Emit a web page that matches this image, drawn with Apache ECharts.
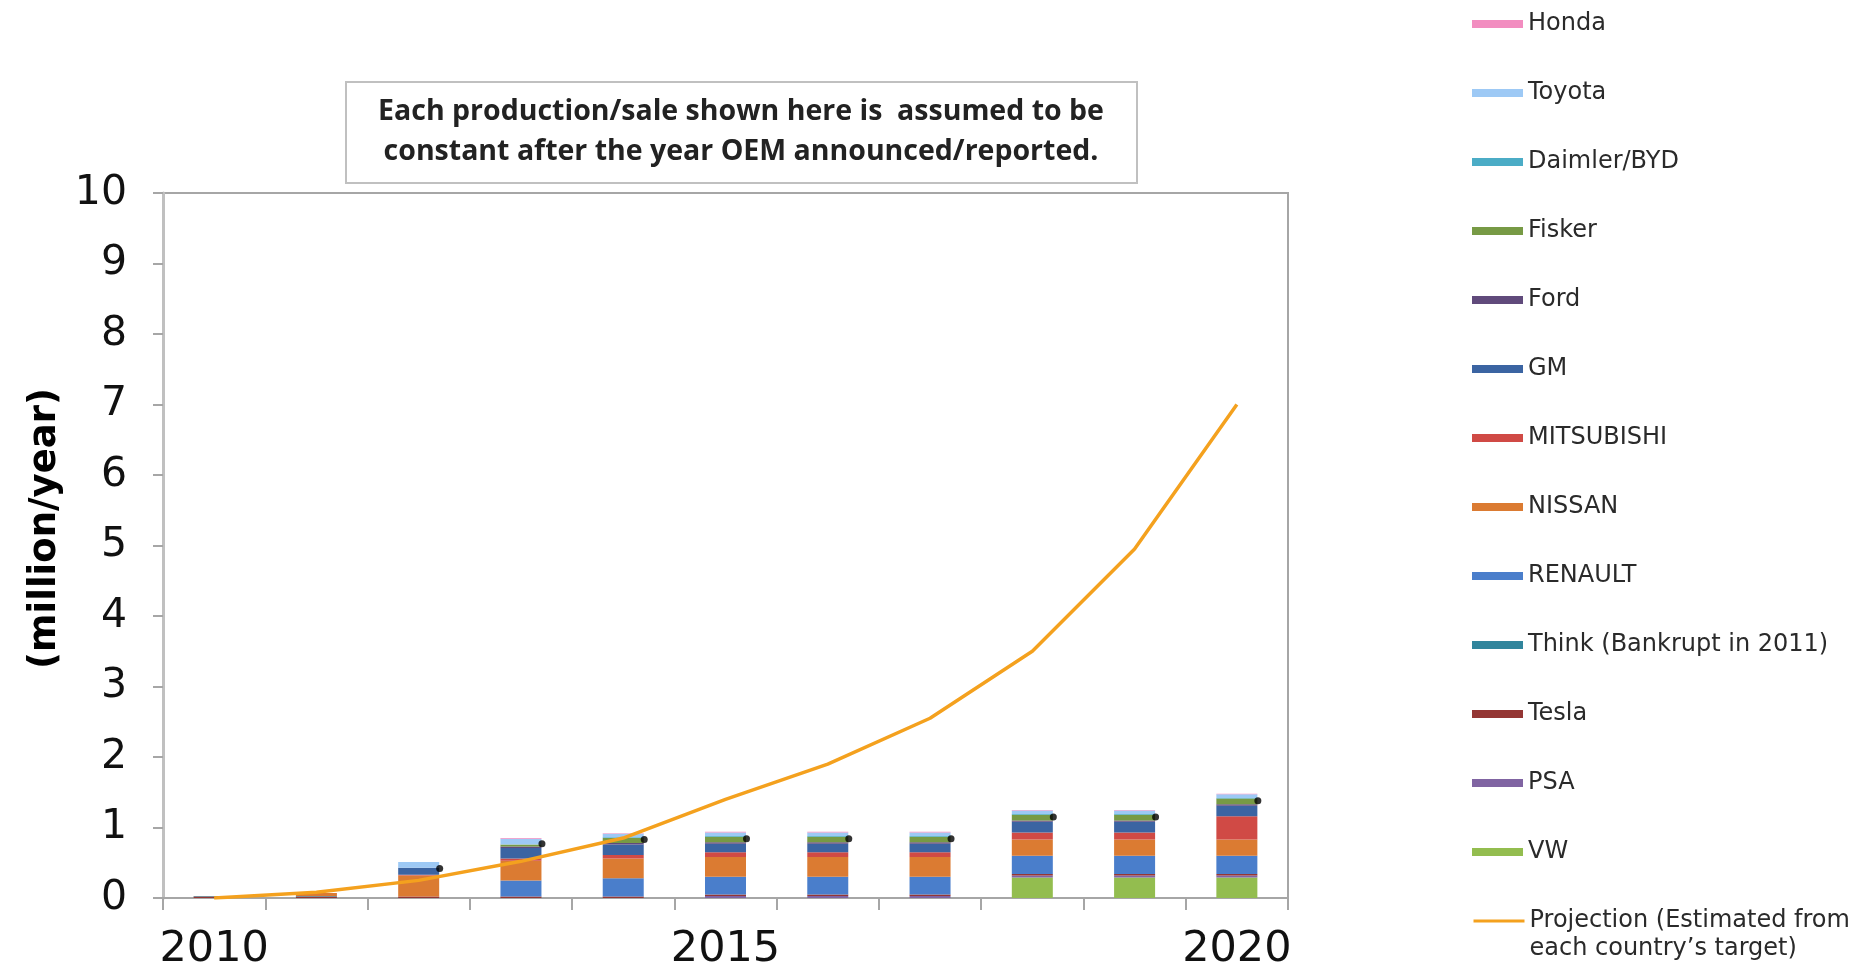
<!DOCTYPE html>
<html>
<head>
<meta charset="utf-8">
<script src="https://cdn.jsdelivr.net/npm/echarts@6/dist/echarts.min.js"></script>
<style>html,body{margin:0;padding:0;background:#fff;}#c{width:1865px;height:969px;}</style>
</head>
<body>
<div id="c"></div>
<script>
var years = ['2010','2011','2012','2013','2014','2015','2016','2017','2018','2019','2020'];
// stacked from bottom to top
var VW         = [0, 0, 0, 0, 0, 0, 0, 0, 0.29, 0.29, 0.29];
var PSA        = [0, 0, 0, 0, 0, 0.03, 0.03, 0.03, 0.03, 0.03, 0.03];
var Tesla      = [0.02, 0.02, 0.02, 0.02, 0.02, 0.02, 0.02, 0.02, 0.02, 0.02, 0.02];
var Think      = [0.01, 0.01, 0, 0, 0, 0, 0, 0, 0, 0, 0];
var RENAULT    = [0, 0, 0, 0.23, 0.26, 0.25, 0.25, 0.25, 0.26, 0.26, 0.26];
var NISSAN     = [0, 0.04, 0.30, 0.28, 0.28, 0.28, 0.28, 0.28, 0.23, 0.23, 0.23];
var MITSUBISHI = [0, 0, 0.01, 0.03, 0.05, 0.07, 0.07, 0.07, 0.10, 0.10, 0.33];
var GM         = [0, 0, 0.10, 0.15, 0.15, 0.12, 0.12, 0.12, 0.15, 0.15, 0.15];
var Ford       = [0, 0, 0, 0.02, 0.02, 0.02, 0.02, 0.02, 0.02, 0.02, 0.02];
var Fisker     = [0, 0, 0, 0.03, 0.07, 0.08, 0.08, 0.08, 0.08, 0.08, 0.08];
var DaimlerBYD = [0, 0, 0, 0, 0.01, 0.01, 0.01, 0.01, 0.01, 0.01, 0.01];
var Toyota     = [0, 0, 0.08, 0.08, 0.05, 0.05, 0.05, 0.05, 0.05, 0.05, 0.05];
var Honda      = [0, 0, 0, 0.01, 0.01, 0.01, 0.01, 0.01, 0.01, 0.01, 0.01];
var markerDots = [null, null, 0.42, 0.77, 0.83, 0.84, 0.84, 0.84, 1.15, 1.15, 1.38];
var projection = [0, 0.08, 0.25, 0.52, 0.85, 1.4, 1.9, 2.55, 3.5, 4.95, 7.0];
var yTicks = [0,1,2,3,4,5,6,7,8,9,10];
var projName = 'Projection (Estimated from each country\u2019s target)';

var barDefs = [
  ['VW', VW, '#93BD4F'],
  ['PSA', PSA, '#8064A2'],
  ['Tesla', Tesla, '#943634'],
  ['Think (Bankrupt in 2011)', Think, '#31859C'],
  ['RENAULT', RENAULT, '#4A7ECB'],
  ['NISSAN', NISSAN, '#DB7B32'],
  ['MITSUBISHI', MITSUBISHI, '#D04A45'],
  ['GM', GM, '#3B64A2'],
  ['Ford', Ford, '#604A7B'],
  ['Fisker', Fisker, '#779A45'],
  ['Daimler/BYD', DaimlerBYD, '#4BACC6'],
  ['Toyota', Toyota, '#9DC9F5'],
  ['Honda', Honda, '#F28DC0']
];

var series = barDefs.map(function(d){
  return {name: d[0], type: 'bar', stack: 'oem', data: d[1], barWidth: 41,
    itemStyle: {color: d[2]}, emphasis: {disabled: true}};
});
series.push({name: 'dots', type: 'scatter', data: markerDots, symbol: 'circle', symbolSize: 7,
  symbolOffset: [21, 0], itemStyle: {color: '#000'}, z: 5, silent: true});
series.push({name: projName, type: 'line', data: projection, symbol: 'none', smooth: false,
  lineStyle: {color: '#F4A11E', width: 3.5}, itemStyle: {color: '#F4A11E'}, z: 6});

var legendNames = barDefs.map(function(d){return d[0];}).reverse();

var chart = echarts.init(document.getElementById('c'), null, {renderer: 'canvas'});
chart.setOption({
  animation: false,
  backgroundColor: '#fff',
  grid: {left: 163, right: 577, top: 193, bottom: 71, show: true, borderColor: '#A6A6A6', borderWidth: 2,
    containLabel: false, outerBoundsMode: 'none'},
  xAxis: {
    type: 'category', data: years, boundaryGap: true,
    axisLine: {lineStyle: {color: '#A6A6A6', width: 2}},
    axisTick: {show: true, interval: 0, length: 12, alignWithLabel: false, lineStyle: {color: '#A6A6A6', width: 2}},
    axisLabel: {interval: 4, fontFamily: 'DejaVu Sans', fontSize: 43, color: '#111', margin: 30}
  },
  yAxis: {
    type: 'value', min: yTicks[0], max: yTicks[yTicks.length-1], interval: 1,
    name: '(million/year)', nameLocation: 'middle', nameGap: 98,
    nameTextStyle: {fontFamily: 'DejaVu Sans', fontWeight: 'bold', fontSize: 37, color: '#000', padding: [0, 0, 0, 34]},
    axisLine: {show: true, lineStyle: {color: '#C0C0C0', width: 3}},
    axisTick: {show: true, length: 10, inside: false, lineStyle: {color: '#A6A6A6', width: 2}},
    splitLine: {show: false},
    axisLabel: {fontFamily: 'DejaVu Sans', fontSize: 41, color: '#111', margin: 36}
  },
  legend: [{
    data: legendNames, orient: 'vertical', left: 1472, top: 10, padding: 0,
    itemWidth: 51, itemHeight: 8, itemGap: 41, itemTextGap: 6, icon: 'rect',
    textStyle: {fontFamily: 'DejaVu Sans', fontSize: 24, lineHeight: 28, color: '#2a2a2a'}
  }, {
    data: [projName], orient: 'vertical', left: 1472, top: 879, padding: 0,
    itemWidth: 51, itemHeight: 8, itemTextGap: 6,
    itemStyle: {opacity: 0},
    lineStyle: {width: 3, color: '#F4A11E'},
    formatter: function(){ return '\nProjection (Estimated from\neach country\u2019s target)'; },
    textStyle: {fontFamily: 'DejaVu Sans', fontSize: 24, lineHeight: 28, color: '#2a2a2a'}
  }],
  graphic: [{
    type: 'group', left: 345, top: 81,
    children: [{
      type: 'rect', shape: {x: 0, y: 0, width: 791, height: 101},
      style: {fill: '#fff', stroke: '#C0C0C0', lineWidth: 2}
    }, {
      type: 'text', x: 395, y: 50,
      style: {text: 'Each production/sale shown here is  assumed to be\nconstant after the year OEM announced/reported.',
        fontFamily: 'Open Sans', fontWeight: 'bold', fontSize: 28.5, lineHeight: 40,
        fill: '#222', align: 'center', verticalAlign: 'middle'}
    }]
  }],
  series: series
});
</script>
</body>
</html>
